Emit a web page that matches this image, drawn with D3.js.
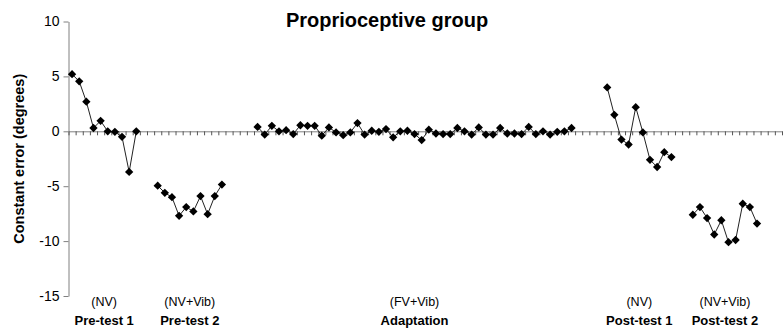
<!DOCTYPE html>
<html>
<head>
<meta charset="utf-8">
<script src="https://cdn.jsdelivr.net/npm/d3@7"></script>
<style>
  body { margin: 0; background: #fff; }
  svg { display: block; font-family: Arial, "Liberation Sans", sans-serif; }
</style>
</head>
<body>
<div id="chart"></div>
<script>
// data (degrees)
var pre1 = [5.2, 4.55, 2.7, 0.3, 0.95, 0.0, -0.05, -0.5, -3.7, 0.0];
var pre2 = [-4.95, -5.6, -6.0, -7.7, -6.9, -7.3, -5.9, -7.55, -5.9, -4.85];
var adapt = [0.4, -0.3, 0.5, 0.0, 0.1, -0.25, 0.55, 0.5, 0.5, -0.4,
  0.35, -0.1, -0.35, -0.1, 0.75, -0.3, 0.05, -0.05, 0.2, -0.55,
  0.0, 0.05, -0.25, -0.8, 0.15, -0.2, -0.25, -0.25, 0.3, 0.0,
  -0.3, 0.35, -0.3, -0.3, 0.3, -0.2, -0.2, -0.25, 0.4, -0.25,
  0.0, -0.3, -0.05, 0.0, 0.3];
var post1 = [4.0, 1.5, -0.75, -1.2, 2.2, -0.1, -2.6, -3.25, -1.9, -2.35];
var post2 = [-7.6, -6.9, -7.9, -9.4, -8.1, -10.1, -9.9, -6.6, -6.9, -8.4];

// trial slot where each block begins on the x axis
var groupStart = [0, 12, 26, 75, 87];
var conditions = ["(NV)", "(NV+Vib)", "(FV+Vib)", "(NV)", "(NV+Vib)"];
var phases = ["Pre-test 1", "Pre-test 2", "Adaptation", "Post-test 1", "Post-test 2"];
var yTicks = [10, 5, 0, -5, -10, -15];
var nSlots = 100;

var Width = 783;
var Height = 328;

var svg = d3.select("#chart")
  .append("svg")
  .attr("width", Width)
  .attr("height", Height);

var x = d3.scaleLinear().domain([0, nSlots]).range([68.5, 782]);
var y = d3.scaleLinear().domain([-15, 10]).range([296, 21.5]);

var groups = [pre1, pre2, adapt, post1, post2].map(function(vals, g) {
  return vals.map(function(v, i) {
    return { slot: groupStart[g] + i + 0.5, value: v };
  });
});

// y axis (plain hyphen for negatives, like the original)
var yAxis = d3.axisLeft(y)
  .tickValues(yTicks)
  .tickSize(5)
  .tickSizeOuter(0)
  .tickPadding(4)
  .tickFormat(function(d) { return String(d); });
var gy = svg.append("g")
  .attr("transform", "translate(" + x(0) + ",0)")
  .call(yAxis);
gy.select(".domain").attr("stroke", "#808080");
gy.selectAll(".tick line").attr("stroke", "#808080");
gy.selectAll(".tick text")
  .attr("font-size", 14)
  .attr("fill", "#000");

// x axis along zero, tick at every slot boundary
var xAxis = d3.axisBottom(x)
  .tickValues(d3.range(nSlots + 1))
  .tickSize(4)
  .tickSizeOuter(0)
  .tickFormat("");
var gx = svg.append("g")
  .attr("transform", "translate(0," + y(0) + ")")
  .call(xAxis);
gx.select(".domain").attr("stroke", "#808080");
gx.selectAll(".tick line").attr("stroke", "#555");

// lines
var line = d3.line()
  .x(function(d) { return x(d.slot); })
  .y(function(d) { return y(d.value); });

svg.selectAll("path.series")
  .data(groups)
  .enter()
  .append("path")
  .attr("class", "series")
  .attr("d", line)
  .attr("fill", "none")
  .attr("stroke", "#222")
  .attr("stroke-width", 1);

// diamond markers
var diamond = d3.symbol().type(d3.symbolDiamond2).size(44);
svg.selectAll("path.marker")
  .data(d3.merge(groups))
  .enter()
  .append("path")
  .attr("class", "marker")
  .attr("d", diamond)
  .attr("transform", function(d) {
    return "translate(" + x(d.slot) + "," + y(d.value) + ")";
  })
  .attr("fill", "#000");

// block labels
groups.forEach(function(g, i) {
  var cx = x(groupStart[i] + g.length / 2);
  svg.append("text")
    .attr("x", cx)
    .attr("y", 306)
    .attr("text-anchor", "middle")
    .attr("font-size", 12.5)
    .text(conditions[i]);
  svg.append("text")
    .attr("x", cx)
    .attr("y", 325)
    .attr("text-anchor", "middle")
    .attr("font-size", 13)
    .attr("font-weight", "bold")
    .text(phases[i]);
});

// title
svg.append("text")
  .attr("x", 387)
  .attr("y", 27)
  .attr("text-anchor", "middle")
  .attr("font-size", 20)
  .attr("font-weight", "bold")
  .text("Proprioceptive group");

// y axis title
svg.append("text")
  .attr("transform", "translate(24," + y(-2.5) + ") rotate(-90)")
  .attr("text-anchor", "middle")
  .attr("font-size", 14.5)
  .attr("font-weight", "bold")
  .text("Constant error (degrees)");
</script>
</body>
</html>
